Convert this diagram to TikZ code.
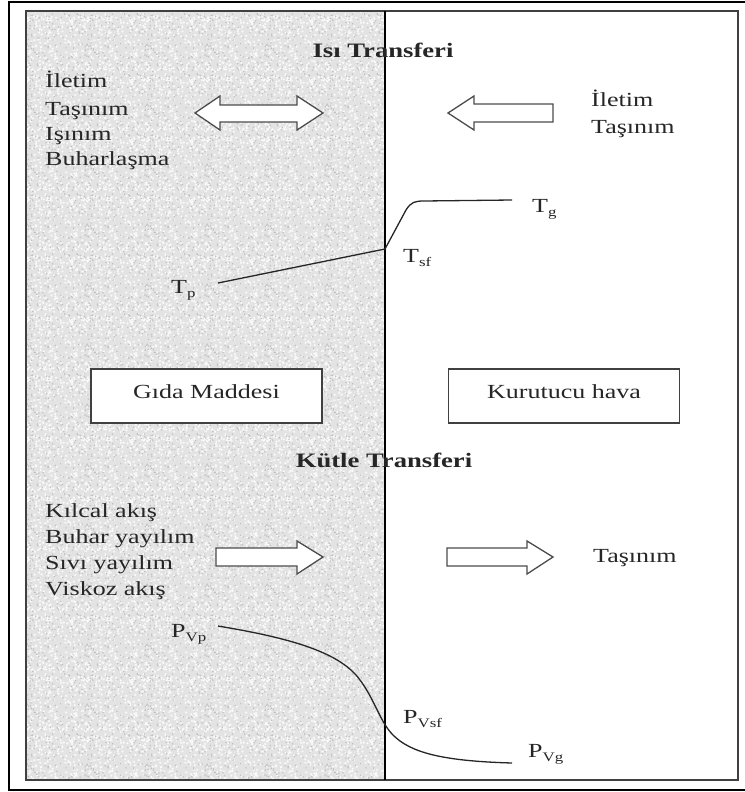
\documentclass[tikz,border=0pt]{standalone}
\usepackage{fontspec}
\setmainfont[FakeStretch=1.3]{Liberation Serif}
\usetikzlibrary{patterns}
\newcommand\lowsub[1]{\raisebox{-4pt}{\fontsize{13}{13}\selectfont #1}}
% tileable speckle textures for the food layer (light flecks and dark grains)
\pgfdeclarepatternformonly{specklelight}{\pgfqpoint{0pt}{0pt}}{\pgfqpoint{60pt}{60pt}}{\pgfqpoint{60pt}{60pt}}{%
  \pgfmathsetseed{17}%
  \foreach \k in {1,...,240}{%
    \pgfmathsetmacro\px{60*rnd}\pgfmathsetmacro\py{60*rnd}%
    \pgfpathcircle{\pgfpoint{\px pt}{\py pt}}{1.2pt}%
    \pgfusepath{fill}%
  }%
}
\pgfdeclarepatternformonly{speckledark}{\pgfqpoint{0pt}{0pt}}{\pgfqpoint{60pt}{60pt}}{\pgfqpoint{60pt}{60pt}}{%
  \pgfmathsetseed{29}%
  \foreach \k in {1,...,140}{%
    \pgfmathsetmacro\px{60*rnd}\pgfmathsetmacro\py{60*rnd}%
    \pgfpathcircle{\pgfpoint{\px pt}{\py pt}}{0.8pt}%
    \pgfusepath{fill}%
  }%
}
\begin{document}
\begin{tikzpicture}[x=1pt,y=-1pt,
  txt/.style={text=black!85, inner sep=0pt, font=\fontsize{20}{24}\selectfont},
  ttl/.style={txt, font=\fontsize{20.5}{24}\selectfont\bfseries},
  lbl/.style={txt, anchor=base west},
  boxnode/.style={draw=black!75, line width=1.1pt, fill=white, minimum width=231pt, minimum height=54pt, inner sep=0pt},
  blockarrow/.style={draw=black!70, line width=1.3pt, fill=white, line join=miter},
  curve/.style={draw=black!85, line width=1.3pt, line join=round}
]
\useasboundingbox (0,0) rectangle (744,792);

% speckled food layer
\fill[gray!22] (26,11) rectangle (385,780);
\fill[pattern=specklelight, pattern color=gray!4] (26,11) rectangle (385,780);
\fill[pattern=speckledark, pattern color=gray!50] (26,11) rectangle (385,780);

% frames and interface line
\draw[black!75, line width=1.3pt] (26,11) rectangle (738,780);
\draw[black, line width=1.1pt] (385,11) -- (385,780);
\draw[black, line width=2.5pt] (9,2) rectangle (746,790);

% heat transfer
\node[ttl] (heat) at (383,50) {Isı Transferi};
\node[lbl] (h1) at (45,88) {İletim};
\node[lbl] (h2) at (45,115) {Taşınım};
\node[lbl] (h3) at (45,140) {Işınım};
\node[lbl] (h4) at (45,165) {Buharlaşma};
\node[lbl] (h5) at (591,106) {İletim};
\node[lbl] (h6) at (591,133) {Taşınım};

\draw[blockarrow] (195,113) -- (220,96) -- (220,105) -- (297,105) -- (297,96) -- (323,113)
  -- (297,130) -- (297,122) -- (220,122) -- (220,130) -- cycle;
\draw[blockarrow] (448,113) -- (474,96) -- (474,104) -- (553,104) -- (553,122)
  -- (474,122) -- (474,130) -- cycle;

% temperature profile
\coordinate (tstart) at (218,283);
\coordinate (tsurf) at (385,249);
\coordinate (tend) at (512,200);
\draw[curve] (tstart) -- (tsurf) -- (406,210) .. controls (411,202) and (415,201) .. (424,201) -- (tend);
\node[lbl] (tp) at (171,293) {T\lowsub{p}};
\node[lbl] (tsf) at (403,262) {T\lowsub{sf}};
\node[lbl] (tg) at (532,212) {T\lowsub{g}};

% phase boxes
\node[boxnode] (foodbox) at (206.5,396) {};
\node[txt, anchor=base] (food) at (206.5,398) {Gıda Maddesi};
\node[boxnode] (airbox) at (564,396) {};
\node[txt, anchor=base] (air) at (564,398) {Kurutucu hava};

% mass transfer
\node[ttl] (mass) at (384,460) {Kütle Transferi};
\node[lbl] (m1) at (45,517) {Kılcal akış};
\node[lbl] (m2) at (45,543) {Buhar yayılım};
\node[lbl] (m3) at (45,569) {Sıvı yayılım};
\node[lbl] (m4) at (45,595) {Viskoz akış};
\node[lbl] (m5) at (593,562) {Taşınım};

\draw[blockarrow] (216,548) -- (297,548) -- (297,541) -- (323,557) -- (297,574)
  -- (297,566) -- (216,566) -- cycle;
\draw[blockarrow] (447,548) -- (527,548) -- (527,541) -- (553,557) -- (527,574)
  -- (527,566) -- (447,566) -- cycle;

% vapour pressure profile
\coordinate (pstart) at (218,626);
\coordinate (pend) at (512,763);
\draw[curve] (pstart) .. controls (290,638) and (340,652) .. (360,680)
  .. controls (375,700) and (380,722) .. (393,735)
  .. controls (410,752) and (440,761) .. (pend);
\node[lbl] (pvp) at (171,637) {P\lowsub{Vp}};
\node[lbl] (pvsf) at (403,723) {P\lowsub{Vsf}};
\node[lbl] (pvg) at (528,757) {P\lowsub{Vg}};
\end{tikzpicture}
\end{document}
